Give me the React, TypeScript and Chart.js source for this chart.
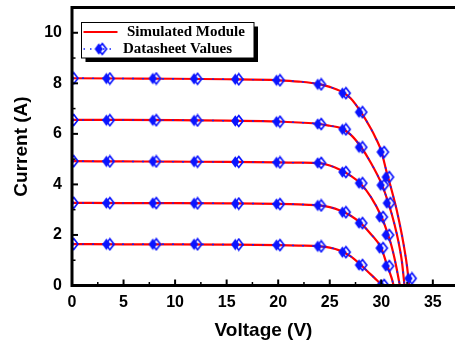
import React, { useEffect, useRef } from "react";
import { Chart, registerables } from "chart.js";

Chart.register(...registerables);

// ---- Simulated module curves (voltage V, current A) ----
const simV1000 = [0, 5, 10, 15, 20, 22, 24, 25, 26, 27, 28, 29, 29.5, 30, 30.5, 31, 31.5, 32, 32.3, 32.5, 32.7];
const simI1000 = [8.2, 8.19, 8.18, 8.16, 8.12, 8.07, 7.97, 7.86, 7.7, 7.42, 6.88, 6.2, 5.8, 5.32, 4.52, 3.78, 2.98, 2.0, 1.3, 0.75, 0];
const simV800 = [0, 5, 10, 15, 20, 22, 24, 25, 26, 27, 28, 29, 30, 30.5, 31, 31.5, 31.8, 32, 32.25];
const simI800 = [6.55, 6.55, 6.54, 6.52, 6.49, 6.45, 6.39, 6.32, 6.24, 5.98, 5.5, 4.85, 4.05, 3.5, 2.85, 2.05, 1.45, 0.95, 0];
const simV600 = [0, 5, 10, 15, 20, 22, 24, 25, 26, 27, 28, 29, 30, 30.5, 31, 31.4, 31.8];
const simI600 = [4.92, 4.91, 4.9, 4.89, 4.87, 4.86, 4.84, 4.75, 4.58, 4.35, 4.03, 3.5, 2.74, 2.2, 1.55, 0.85, 0];
const simV400 = [0, 5, 10, 15, 20, 22, 24, 25, 26, 27, 28, 29, 30, 30.5, 31, 31.2];
const simI400 = [3.27, 3.26, 3.26, 3.25, 3.23, 3.21, 3.17, 3.1, 2.97, 2.77, 2.47, 2.03, 1.48, 0.88, 0.3, 0];
const simV200 = [0, 5, 10, 15, 20, 22, 24, 25, 26, 27, 28, 29, 29.6, 30.1];
const simI200 = [1.64, 1.63, 1.63, 1.62, 1.6, 1.58, 1.55, 1.5, 1.38, 1.16, 0.82, 0.43, 0.2, 0];

// ---- Datasheet values ----
const dsV1000 = [0, 3.5, 8, 12, 16, 20, 24, 26.4, 28, 30.1, 30.6, 32.8];
const dsI1000 = [8.2, 8.19, 8.19, 8.18, 8.16, 8.12, 7.96, 7.61, 6.86, 5.28, 4.29, 0.28];
const dsV800 = [0, 3.5, 8, 12, 16, 20, 24, 26.4, 28, 30.1, 30.7];
const dsI800 = [6.55, 6.54, 6.54, 6.53, 6.51, 6.48, 6.39, 6.18, 5.47, 3.97, 3.26];
const dsV600 = [0, 3.5, 8, 12, 16, 20, 24, 26.4, 28, 30.0, 30.6];
const dsI600 = [4.92, 4.91, 4.91, 4.9, 4.89, 4.87, 4.85, 4.49, 4.05, 2.71, 2.0];
const dsV400 = [0, 3.5, 8, 12, 16, 20, 24, 26.4, 28, 30.0, 30.6];
const dsI400 = [3.27, 3.26, 3.26, 3.25, 3.24, 3.22, 3.17, 2.9, 2.47, 1.48, 0.77];
const dsV200 = [0, 3.5, 8, 12, 16, 20, 24, 26.4, 28, 30.1];
const dsI200 = [1.64, 1.63, 1.63, 1.63, 1.62, 1.6, 1.55, 1.32, 0.81, 0.02];

// ---- Axes ----
const xMajorTicks = [0, 5, 10, 15, 20, 25, 30, 35];
const xMinorTicks = [2.5, 7.5, 12.5, 17.5, 22.5, 27.5, 32.5];
const yMajorTicks = [0, 2, 4, 6, 8, 10];
const yMinorTicks = [1, 3, 5, 7, 9];
const xTitle = "Voltage (V)";
const yTitle = "Current (A)";
const legendLabels = ["Simulated Module", "Datasheet Values"];

const zip = (xs: number[], ys: number[]) => xs.map((x, i) => ({ x, y: ys[i] }));

function makeMarker(): HTMLCanvasElement {
  const c = document.createElement("canvas");
  c.width = 16;
  c.height = 14;
  const g = c.getContext("2d")!;
  const diamond = (cx: number, cy: number, hw: number, hh: number) => {
    g.beginPath();
    g.moveTo(cx, cy - hh);
    g.lineTo(cx + hw, cy);
    g.lineTo(cx, cy + hh);
    g.lineTo(cx - hw, cy);
    g.closePath();
  };
  g.strokeStyle = "#0a14ff";
  g.lineWidth = 1.7;
  diamond(9.8, 7, 4.2, 5.4);
  g.stroke();
  g.fillStyle = "#0a14ff";
  diamond(6.3, 7, 4.2, 5.8);
  g.fill();
  return c;
}

export default function App() {
  const ref = useRef<HTMLCanvasElement>(null);

  useEffect(() => {
    const canvas = ref.current!;
    const marker = makeMarker();
    const curves = [
      [simV1000, simI1000, dsV1000, dsI1000],
      [simV800, simI800, dsV800, dsI800],
      [simV600, simI600, dsV600, dsI600],
      [simV400, simI400, dsV400, dsI400],
      [simV200, simI200, dsV200, dsI200],
    ];
    const datasets: any[] = [];
    curves.forEach(([sv, si, dv, di]) => {
      datasets.push({
        label: legendLabels[0],
        data: zip(sv, si),
        showLine: true,
        borderColor: "#ff0000",
        borderWidth: 2.2,
        pointRadius: 0,
        cubicInterpolationMode: "monotone",
        order: 3,
        clip: 0,
      });
      datasets.push({
        label: "dots",
        data: zip(sv, si),
        showLine: true,
        borderColor: "#1020ff",
        borderWidth: 1.4,
        borderDash: [2, 8],
        pointRadius: 0,
        cubicInterpolationMode: "monotone",
        order: 2,
        clip: 0,
      });
      datasets.push({
        label: legendLabels[1],
        data: zip(dv, di),
        showLine: false,
        pointStyle: marker,
        pointRadius: 6,
        order: 1,
        clip: 0,
      });
    });

    const frame = {
      id: "frame",
      afterDraw(chart: any) {
        const { ctx, chartArea: a, scales } = chart;
        const xs = scales.x;
        const ys = scales.y;
        ctx.save();
        ctx.strokeStyle = "#000";
        const seg = (x1: number, y1: number, x2: number, y2: number) => {
          ctx.beginPath();
          ctx.moveTo(x1, y1);
          ctx.lineTo(x2, y2);
          ctx.stroke();
        };
        ctx.lineWidth = 2;
        xMajorTicks.forEach((v) => {
          const p = xs.getPixelForValue(v);
          seg(p, a.bottom, p, a.bottom - 6);
        });
        yMajorTicks.forEach((v) => {
          const p = ys.getPixelForValue(v);
          seg(a.left, p, a.left + 6, p);
        });
        ctx.lineWidth = 1.5;
        xMinorTicks.forEach((v) => {
          const p = xs.getPixelForValue(v);
          seg(p, a.bottom, p, a.bottom - 3.5);
        });
        yMinorTicks.forEach((v) => {
          const p = ys.getPixelForValue(v);
          seg(a.left, p, a.left + 3.5, p);
        });
        ctx.lineWidth = 3;
        ctx.beginPath();
        ctx.moveTo(a.right + 2, a.top);
        ctx.lineTo(a.left, a.top);
        ctx.lineTo(a.left, a.bottom);
        ctx.lineTo(a.right + 2, a.bottom);
        ctx.stroke();

        // Legend box
        const bx = a.left + 9.5;
        const by = a.top + 15;
        const bw = 172.5;
        const bh = 35.5;
        ctx.fillStyle = "#000";
        ctx.fillRect(bx + 4, by + 4, bw, bh);
        ctx.fillStyle = "#fff";
        ctx.fillRect(bx, by, bw, bh);
        ctx.lineWidth = 1;
        ctx.strokeRect(bx, by, bw, bh);

        const r1 = by + 9.5;
        const r2 = by + 26.5;
        ctx.strokeStyle = "#ff0000";
        ctx.lineWidth = 2;
        seg(bx + 2, r1, bx + 36, r1);
        ctx.strokeStyle = "#1020ff";
        ctx.lineWidth = 1.4;
        ctx.setLineDash([1.5, 5]);
        seg(bx + 2, r2, bx + 30, r2);
        ctx.setLineDash([]);
        ctx.drawImage(marker, bx + 19 - marker.width / 2, r2 - marker.height / 2);

        ctx.fillStyle = "#000";
        ctx.font = "bold 15px 'Liberation Serif'";
        ctx.textBaseline = "middle";
        ctx.textAlign = "left";
        ctx.fillText(legendLabels[0], bx + 45.5, r1 + 0.5);
        ctx.fillText(legendLabels[1], bx + 41.5, r2 + 0.5);
        ctx.restore();
      },
    };

    const tickFont = { family: "'Liberation Sans'", weight: "bold" as const, size: 16 };
    const titleFont = { family: "'Liberation Sans'", weight: "bold" as const, size: 19, lineHeight: 1.0 };

    const chart = new Chart(canvas, {
      type: "scatter",
      data: { datasets },
      options: {
        responsive: false,
        animation: false,
        layout: { autoPadding: false, padding: { top: 7.5, left: 0, right: 0, bottom: 0 } },
        plugins: {
          legend: { display: false },
          tooltip: { enabled: false },
        },
        scales: {
          x: {
            type: "linear",
            min: 0,
            max: 37.15,
            afterFit: (s: any) => {
              s.height = 54.5;
              s.paddingLeft = 0;
              s.paddingRight = 0;
            },
            afterBuildTicks: (s: any) => {
              s.ticks = xMajorTicks.map((v) => ({ value: v }));
            },
            ticks: {
              font: tickFont,
              color: "#000",
              padding: 7,
              maxRotation: 0,
              includeBounds: false,
            },
            grid: { display: false, drawTicks: false },
            border: { display: false },
            title: {
              display: true,
              text: xTitle,
              font: titleFont,
              color: "#000",
              padding: { top: 0, bottom: 0 },
            },
          },
          y: {
            type: "linear",
            min: 0,
            max: 11,
            afterFit: (s: any) => {
              s.width = 72;
              s.paddingTop = 0;
              s.paddingBottom = 0;
            },
            afterBuildTicks: (s: any) => {
              s.ticks = yMajorTicks.map((v) => ({ value: v }));
            },
            ticks: {
              font: tickFont,
              color: "#000",
              padding: 10,
              includeBounds: false,
            },
            grid: { display: false, drawTicks: false },
            border: { display: false },
            title: {
              display: true,
              text: yTitle,
              font: titleFont,
              color: "#000",
              padding: { top: 12, bottom: 0 },
            },
          },
        },
      },
      plugins: [frame],
    } as any);

    return () => chart.destroy();
  }, []);

  return (
    <div style={{ position: "fixed", left: 0, top: 0, width: 455, height: 340, background: "#fff" }}>
      <canvas ref={ref} width={455} height={340} style={{ display: "block" }} />
    </div>
  );
}
